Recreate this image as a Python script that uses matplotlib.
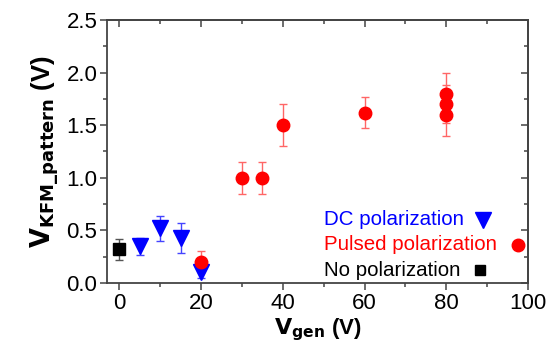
import matplotlib
matplotlib.use('Agg')
import matplotlib.pyplot as plt
from matplotlib.ticker import MultipleLocator

plt.rcParams['font.family'] = ['Liberation Sans', 'DejaVu Sans']

# data
no_x = [0]
no_y = [0.32]
no_err = [0.1]

dc_x = [5, 10, 15, 20]
dc_y = [0.35, 0.52, 0.43, 0.1]
dc_err = [0.08, 0.12, 0.14, 0.05]

pulsed_x = [20, 30, 35, 40, 60, 80, 80, 80]
pulsed_y = [0.2, 1.0, 1.0, 1.5, 1.62, 1.8, 1.7, 1.6]
pulsed_err = [0.1, 0.15, 0.15, 0.2, 0.15, 0.2, 0.18, 0.2]

fig = plt.figure(figsize=(5.53, 3.56), dpi=100)
ax = fig.add_axes([0.1935, 0.205, 0.7615, 0.739])

ax.errorbar(no_x, no_y, yerr=no_err, fmt='s', color='black', ms=8,
            ecolor='#555555', elinewidth=1, capsize=3)
ax.errorbar(dc_x, dc_y, yerr=dc_err, fmt='v', color='blue', ms=12,
            ecolor='#4444ff', elinewidth=1, capsize=3)
ax.errorbar(pulsed_x, pulsed_y, yerr=pulsed_err, fmt='o', color='red', ms=9,
            ecolor='#ff6666', elinewidth=1, capsize=3)

ax.set_xlim(-3, 100)
ax.set_ylim(0, 2.5)
ax.xaxis.set_major_locator(MultipleLocator(20))
ax.xaxis.set_minor_locator(MultipleLocator(10))
ax.yaxis.set_major_locator(MultipleLocator(0.5))
ax.yaxis.set_minor_locator(MultipleLocator(0.25))
ax.yaxis.set_major_formatter(plt.FormatStrFormatter('%.1f'))

for s in ax.spines.values():
    s.set_color('#444444')
    s.set_linewidth(1.3)
ax.tick_params(which='both', direction='out', colors='#444444', labelcolor='black',
               labelsize=16, width=1.1, pad=2)
ax.tick_params(which='major', length=5)
ax.tick_params(which='minor', length=3)
# inward ticks on top/right via secondary axes
sx = ax.secondary_xaxis('top')
sx.xaxis.set_major_locator(MultipleLocator(20))
sx.xaxis.set_minor_locator(MultipleLocator(10))
sx.tick_params(which='both', direction='in', labeltop=False, colors='#444444', width=1.1)
sx.tick_params(which='major', length=5)
sx.tick_params(which='minor', length=3)
sy = ax.secondary_yaxis('right')
sy.yaxis.set_major_locator(MultipleLocator(0.5))
sy.yaxis.set_minor_locator(MultipleLocator(0.25))
sy.tick_params(which='both', direction='in', labelright=False, colors='#444444', width=1.1)
sy.tick_params(which='major', length=5)
sy.tick_params(which='minor', length=3)
for s in list(sx.spines.values()) + list(sy.spines.values()):
    s.set_color('#444444')
    s.set_linewidth(1.3)

ax.set_xlabel(r'$\mathbf{V_{gen}}$ (V)', fontsize=16, fontweight='bold', labelpad=2)
ax.set_ylabel(r'$\mathbf{V_{KFM\_pattern}}$ (V)', fontsize=18.5, fontweight='bold', labelpad=4)

# legend drawn as coloured text with the marker after it
ax.text(0.515, 0.24, 'DC polarization', color='blue', fontsize=14.8,
        transform=ax.transAxes, va='center')
ax.plot([0.893], [0.24], 'v', color='blue', ms=11, transform=ax.transAxes, clip_on=False)
ax.text(0.515, 0.145, 'Pulsed polarization', color='red', fontsize=14.8,
        transform=ax.transAxes, va='center')
ax.plot([0.976], [0.145], 'o', color='red', ms=9, transform=ax.transAxes, clip_on=False)
ax.text(0.515, 0.048, 'No polarization', color='black', fontsize=14.8,
        transform=ax.transAxes, va='center')
ax.plot([0.885], [0.048], 's', color='black', ms=7, transform=ax.transAxes, clip_on=False)

fig.savefig('out.png', dpi=100)
